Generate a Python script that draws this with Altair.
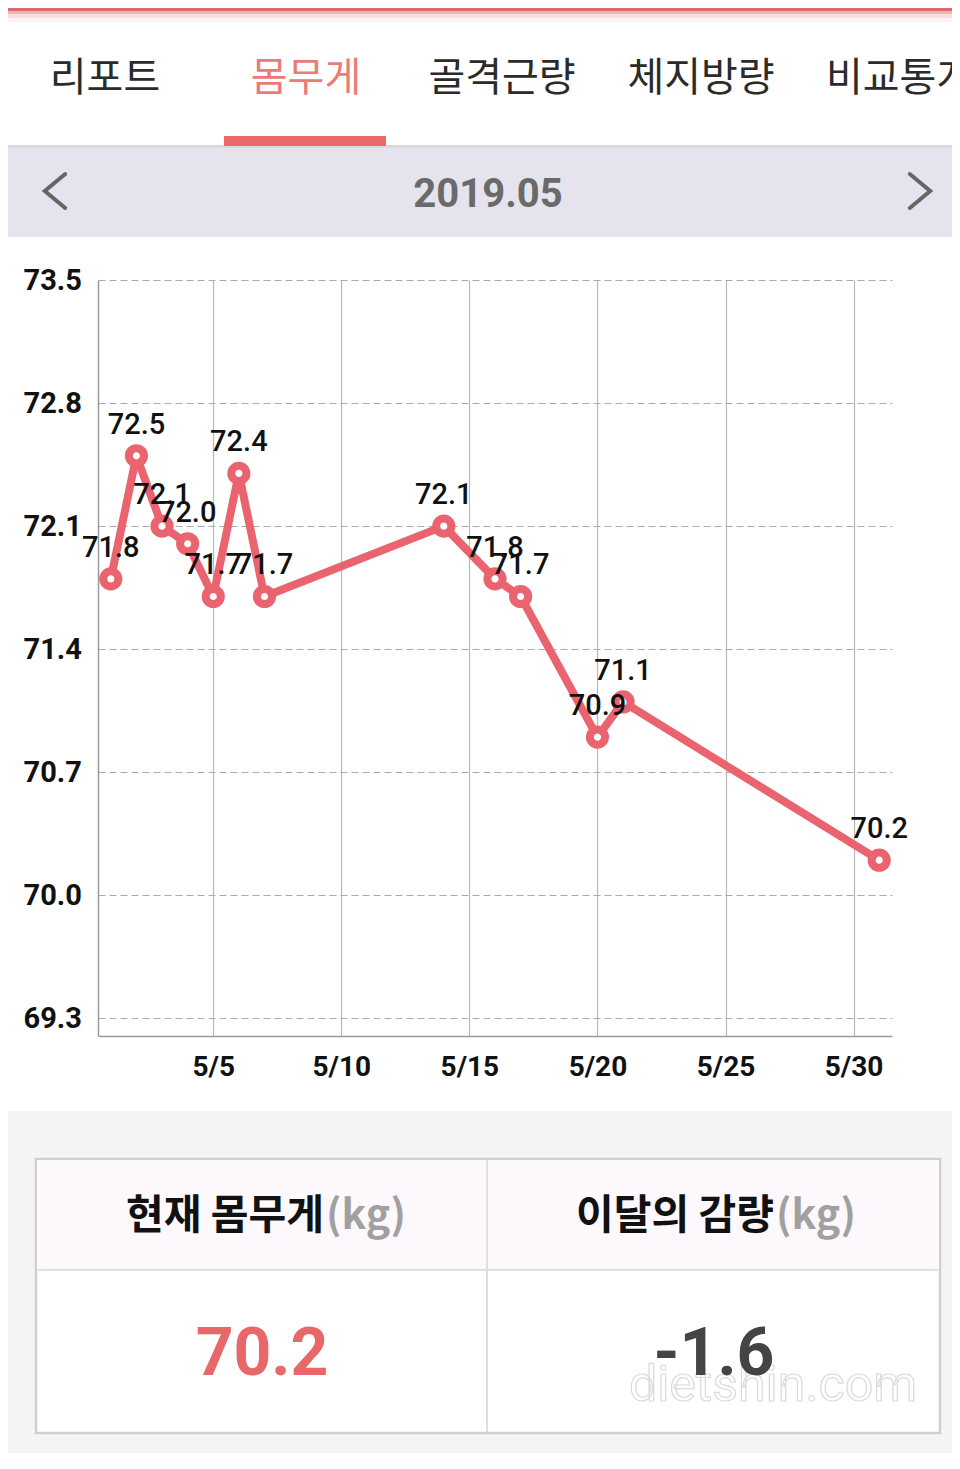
import altair as alt
import pandas as pd

# ---- data ----
days = [1, 2, 3, 4, 5, 6, 7, 14, 16, 17, 20, 21, 31]
weights = [71.8, 72.5, 72.1, 72.0, 71.7, 72.4, 71.7, 72.1, 71.8, 71.7, 70.9, 71.1, 70.2]
y_ticks = [69.3, 70.0, 70.7, 71.4, 72.1, 72.8, 73.5]
x_ticks = [5, 10, 15, 20, 25, 30]
tabs = ["리포트", "몸무게", "골격근량", "체지방량", "비교통계"]
month_label = "2019.05"
table_headers = ["현재 몸무게", "이달의 감량"]
unit = "(kg)"
current_weight = "70.2"
month_change = "-1.6"

df = pd.DataFrame({"day": days, "w": weights})
one = pd.DataFrame({"k": [0]})

RED = "#e9646e"
KR = "Noto Sans CJK KR"
NUM = "Roboto"

# plot area origin in the reference picture
OX, OY = 90, 272


def px(X):
    return X - OX


def py(Y):
    return Y - OY


def rect(x1, y1, x2, y2, color, stroke=None, sw=0):
    kw = dict(color=color)
    if stroke:
        kw = dict(fill=color, stroke=stroke, strokeWidth=sw)
    return alt.Chart(one).mark_rect(**kw).encode(
        x=alt.value(px(x1)), x2=alt.value(px(x2)),
        y=alt.value(py(y1)), y2=alt.value(py(y2)))


def text(t, X, Y, size, color="#222", font=KR, weight="normal", align="center"):
    return alt.Chart(one).mark_text(
        text=t, fontSize=size, color=color, font=font, fontWeight=weight,
        align=align, baseline="middle").encode(
        x=alt.value(px(X)), y=alt.value(py(Y)))


def chevron(X, Y, path):
    return alt.Chart(one).mark_point(
        shape=path, size=1156, filled=False, stroke="#666666", strokeWidth=4,
        strokeCap="round", strokeJoin="miter", opacity=1).encode(
        x=alt.value(px(X)), y=alt.value(py(Y)))


chrome = []
# top accent strip with soft shadow
chrome += [rect(0, 0, 960, 3, "#e2676a"), rect(0, 3, 960, 6, "#eeb3b3"),
           rect(0, 6, 960, 10, "#f7dfe0"), rect(0, 10, 960, 14, "#fcf3f3")]
# tabs
tab_x = [97, 298, 494, 693, 818]
for i, t in enumerate(tabs):
    col = "#ec7b78" if i == 1 else "#2b2b2b"
    al = "left" if i == 4 else "center"
    chrome.append(text(t, tab_x[i], 71, 40, color=col, align=al))
chrome.append(rect(0, 137, 960, 140, "#d9d9dd"))
chrome.append(rect(216, 128, 378, 138, "#ea6a6a"))
# month band
chrome.append(rect(0, 140, 960, 229, "#e5e3ed"))
chrome.append(text(month_label, 480, 187, 40, color="#6a6a6a", font=NUM, weight="bold"))
chrome.append(chevron(47, 183, "M 0.6 -1 L -0.6 0 L 0.6 1"))
chrome.append(chevron(912, 183, "M -0.6 -1 L 0.6 0 L -0.6 1"))
# lower grey area + table
chrome.append(rect(0, 1103, 960, 1480, "#f4f4f5"))
chrome.append(rect(28, 1151, 932, 1425, "#ffffff", stroke="#cfcfd2", sw=2.5))
chrome.append(rect(29, 1152, 931, 1262, "#fcf8fc"))
chrome.append(rect(29, 1261, 931, 1263, "#e2dfe5"))
chrome.append(rect(478, 1152, 480, 1424, "#dedde2"))
chrome.append(text(table_headers[0], 316, 1209, 41, color="#111", weight="bold", align="right"))
chrome.append(text(unit, 318, 1209, 41, color="#a0a0a0", weight="bold", align="left"))
chrome.append(text(table_headers[1], 766, 1209, 41, color="#111", weight="bold", align="right"))
chrome.append(text(unit, 768, 1209, 41, color="#a0a0a0", weight="bold", align="left"))
chrome.append(text(current_weight, 254, 1347, 66, color="#e8686a", font=NUM, weight="bold"))
chrome.append(alt.Chart(one).mark_text(
    text="dietshin.com", fontSize=50, font=NUM, fill="#ffffff", stroke="#dadada",
    strokeWidth=1.2, align="center", baseline="middle").encode(
    x=alt.value(px(765)), y=alt.value(py(1378))))
chrome.append(text(month_change, 706, 1347, 66, color="#444444", font=NUM, weight="bold"))

# ---- main chart ----
x_enc = alt.X("day:Q", scale=alt.Scale(domain=[0.5, 31.5], nice=False, zero=False),
              axis=alt.Axis(values=x_ticks, labelExpr="'5/' + datum.value", title=None,
                            grid=True, gridColor="#b8b8b8", gridWidth=1.2,
                            domainColor="#9a9a9a", domainWidth=1.5, ticks=False, tickSize=0,
                            labelFontSize=28, labelFont=NUM, labelFontWeight="bold",
                            labelColor="#111", labelPadding=17, labelFlush=False))
y_enc = alt.Y("w:Q", scale=alt.Scale(domain=[69.2, 73.5], nice=False, zero=False),
              axis=alt.Axis(values=y_ticks, format=".1f", title=None, grid=True,
                            gridDash=[7, 4], gridColor="#ababab", gridWidth=1.2,
                            domainColor="#9a9a9a", domainWidth=1.5, ticks=False, tickSize=0,
                            labelAlign="left", labelBaseline="middle", labelPadding=75,
                            labelFontSize=29, labelFont=NUM, labelFontWeight="bold",
                            labelColor="#111", labelFlush=False))

base = alt.Chart(df).encode(x=x_enc, y=y_enc)
line = base.mark_line(color=RED, strokeWidth=8, strokeJoin="round")
pts = base.mark_point(shape="circle", size=230, filled=True, fill="white",
                      stroke=RED, strokeWidth=8, opacity=1)
labels = base.mark_text(dy=-31, fontSize=29, font=NUM, fontWeight=500, color="#111").encode(
    text=alt.Text("w:Q", format=".1f"))

chart = alt.layer(*chrome, line, pts, labels).properties(
    width=794, height=756,
    autosize=alt.AutoSizeParams(type="none"),
    padding={"left": 90, "top": 272, "right": 60, "bottom": 417},
    background="white",
).configure_view(stroke=None)

chart.save("out.html", embed_options={"renderer": "svg", "actions": False})
